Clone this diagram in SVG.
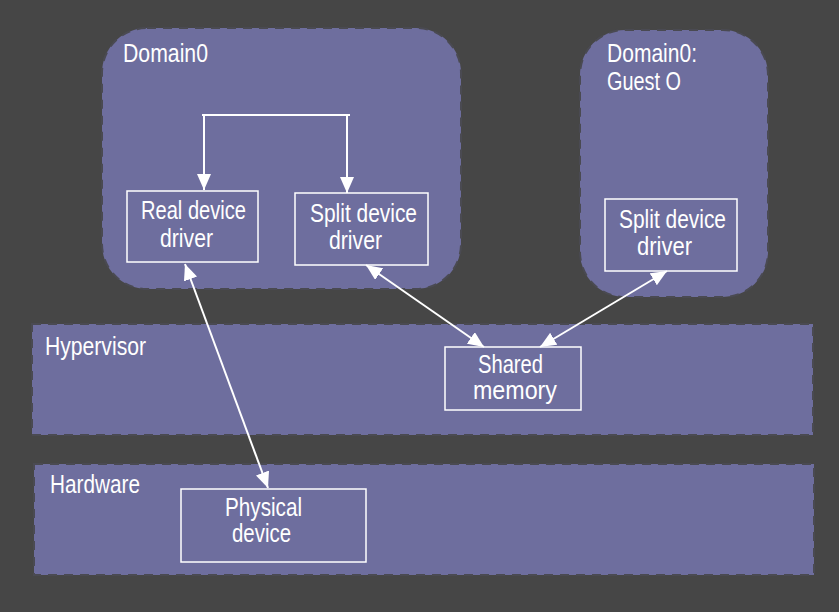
<svg xmlns="http://www.w3.org/2000/svg" width="839" height="612" viewBox="0 0 839 612">
<defs>
<style>
.region{fill:#6e6e9e;stroke:#4a4a52;stroke-width:2;stroke-dasharray:9 7}
.box{fill:none;stroke:#ffffff;stroke-width:1.5}
.lbl{font-family:"Liberation Sans Narrow","Liberation Sans",Arial,sans-serif;font-size:25px;fill:#ffffff}
.c{text-anchor:middle}
.conn{stroke:#ffffff;stroke-width:2;fill:none}
</style>
<marker id="ah" viewBox="0 0 16 14" refX="16" refY="7" markerWidth="16" markerHeight="14" markerUnits="userSpaceOnUse" orient="auto-start-reverse">
<path d="M0,0 L16,7 L0,14 Z" fill="#ffffff"/>
</marker>
</defs>
<rect width="839" height="612" fill="#464646"/>
<g id="domain0">
<rect class="region" x="102" y="28" width="359" height="261" rx="45" ry="45"/>
<text class="lbl" x="123" y="62" textLength="85" lengthAdjust="spacingAndGlyphs">Domain0</text>
</g>
<g id="guest">
<rect class="region" x="580" y="30" width="188" height="267" rx="45" ry="45"/>
<text class="lbl" x="607" y="62" textLength="90" lengthAdjust="spacingAndGlyphs">Domain0:</text>
<text class="lbl" x="607" y="90" textLength="74" lengthAdjust="spacingAndGlyphs">Guest O</text>
</g>
<g id="hypervisor">
<rect class="region" x="32" y="324" width="781" height="111"/>
<text class="lbl" x="45" y="355" textLength="101" lengthAdjust="spacingAndGlyphs">Hypervisor</text>
</g>
<g id="hardware">
<rect class="region" x="34" y="464" width="780" height="111"/>
<text class="lbl" x="50" y="493" textLength="90" lengthAdjust="spacingAndGlyphs">Hardware</text>
</g>
<g id="real-driver">
<rect class="box" x="127" y="191" width="131" height="71"/>
<text class="lbl" x="141" y="219" textLength="105" lengthAdjust="spacingAndGlyphs">Real device</text>
<text class="lbl" x="160" y="247" textLength="53" lengthAdjust="spacingAndGlyphs">driver</text>
</g>
<g id="split-driver-dom0">
<rect class="box" x="295" y="193" width="133" height="72"/>
<text class="lbl" x="310" y="222" textLength="107" lengthAdjust="spacingAndGlyphs">Split device</text>
<text class="lbl" x="329" y="249" textLength="53" lengthAdjust="spacingAndGlyphs">driver</text>
</g>
<g id="split-driver-guest">
<rect class="box" x="605" y="199" width="132" height="72"/>
<text class="lbl" x="619" y="228" textLength="107" lengthAdjust="spacingAndGlyphs">Split device</text>
<text class="lbl" x="637" y="255" textLength="55" lengthAdjust="spacingAndGlyphs">driver</text>
</g>
<g id="shared-memory">
<rect class="box" x="445" y="347" width="136" height="63"/>
<text class="lbl" x="478" y="373" textLength="65" lengthAdjust="spacingAndGlyphs">Shared</text>
<text class="lbl" x="473" y="399" textLength="84" lengthAdjust="spacingAndGlyphs">memory</text>
</g>
<g id="physical-device">
<rect class="box" x="181" y="489" width="185" height="73"/>
<text class="lbl" x="225" y="516" textLength="77" lengthAdjust="spacingAndGlyphs">Physical</text>
<text class="lbl" x="232" y="542" textLength="59" lengthAdjust="spacingAndGlyphs">device</text>
</g>
<g id="connectors">
<path class="conn" d="M202,115 L350,115" stroke-width="1.5"/>
<path class="conn" d="M204,115 L204,190" stroke-width="1.5" marker-end="url(#ah)"/>
<path class="conn" d="M347,115 L347,193" stroke-width="1.5" marker-end="url(#ah)"/>
<path class="conn" d="M185,264 L268,488" marker-start="url(#ah)" marker-end="url(#ah)"/>
<path class="conn" d="M366,265 L484,347" marker-start="url(#ah)" marker-end="url(#ah)"/>
<path class="conn" d="M667,271 L540,347" marker-start="url(#ah)" marker-end="url(#ah)"/>
</g>
</svg>
